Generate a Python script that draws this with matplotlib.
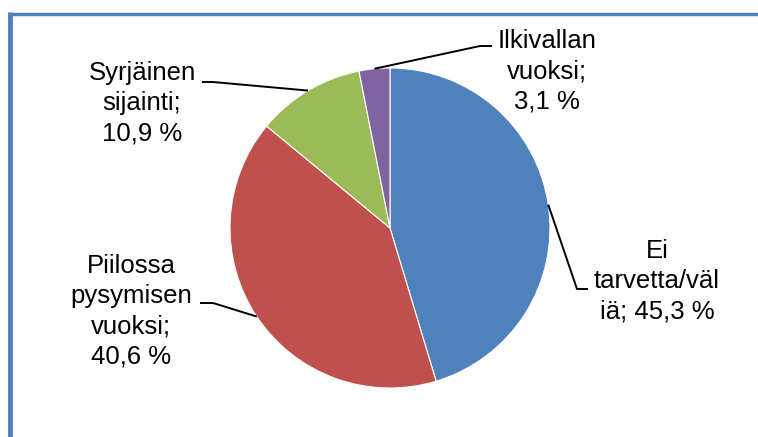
import numpy as np
import matplotlib.pyplot as plt

# syyt (osuus vastaajista, %)
categories = ["Ei\ntarvetta/väl\niä;", "Piilossa\npysymisen\nvuoksi;",
              "Syrjäinen\nsijainti;", "Ilkivallan\nvuoksi;"]
shares = [45.3, 40.6, 10.9, 3.1]
colors = ["#4F81BD", "#C0504D", "#9BBB59", "#8064A2"]

W, H = 758, 437
fig = plt.figure(figsize=(W / 100, H / 100), dpi=100)
ax = fig.add_axes([0, 0, 1, 1])
ax.set_xlim(0, W)
ax.set_ylim(0, H)
ax.set_aspect("equal")
ax.axis("off")

cx, cy, r = 390, H - 228, 160
wedges, _ = ax.pie(shares, colors=colors, startangle=90, counterclock=False,
                   center=(cx, cy), radius=r, frame=True,
                   wedgeprops=dict(edgecolor="white", linewidth=0.8))
ax.set_xlim(0, W)
ax.set_ylim(0, H)
ax.axis("off")

# label block centre, elbow point and end of the leader line (pixels from top-left)
label_pos = [(657, 281), (131, 311), (142, 103), (547, 71)]
elbows = [((577, 289), (588, 289)), ((213, 303), (200, 303)),
          ((213, 82), (202, 82)), ((480, 46), (492, 46))]

for w, name, v, (tx, ty), (e1, e2) in zip(wedges, categories, shares, label_pos, elbows):
    mid = np.deg2rad((w.theta1 + w.theta2) / 2)
    ax0 = cx + r * np.cos(mid)
    ay0 = cy + r * np.sin(mid)
    ax.plot([ax0, e1[0], e2[0]], [ay0, H - e1[1], H - e2[1]],
            color="black", lw=1.4, solid_capstyle="butt")
    val = f"{v:.1f}".replace(".", ",") + " %"
    sep = " " if name.startswith("Ei") else "\n"
    ax.text(tx, H - ty, name + sep + val, ha="center", va="center",
            fontsize=18.5, family="Liberation Sans", linespacing=1.32)

# frame lines on the left and top
ax.plot([10, 10], [0, H - 12], color="#4F81BD", lw=3.5, solid_capstyle="butt")
ax.plot([8, W], [H - 13.5, H - 13.5], color="#4F81BD", lw=2.5, solid_capstyle="butt")

fig.savefig("out.png", dpi=100)
